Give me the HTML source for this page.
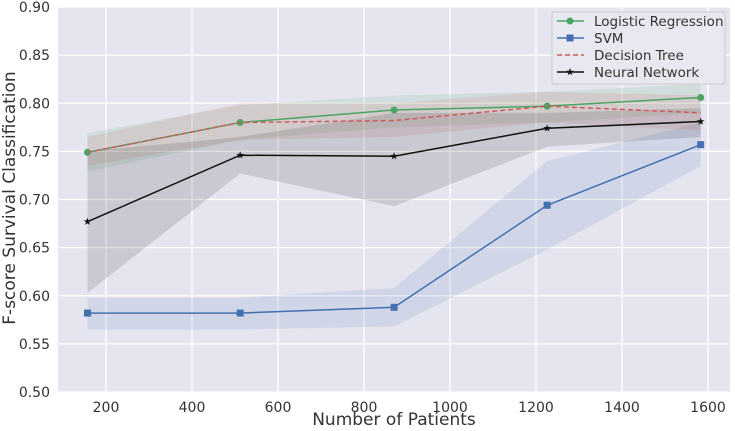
<!DOCTYPE html>
<html><head><meta charset="utf-8"><style>
body{margin:0;background:#fff;font-family:"DejaVu Sans","Liberation Sans",sans-serif}
</style></head><body>
<svg id="chart" width="735" height="427" xmlns="http://www.w3.org/2000/svg"></svg>
<script>
const xs=[157,512,870,1226,1583];
const lrY=[0.749,0.780,0.793,0.797,0.806];
const lrLo=[0.729,0.762,0.775,0.780,0.790];
const lrHi=[0.769,0.798,0.808,0.812,0.820];
const svmY=[0.582,0.582,0.588,0.694,0.757];
const svmLo=[0.565,0.565,0.568,0.648,0.735];
const svmHi=[0.598,0.598,0.608,0.740,0.780];
const dtY=[0.749,0.780,0.782,0.797,0.790];
const dtLo=[0.735,0.762,0.765,0.780,0.772];
const dtHi=[0.765,0.800,0.800,0.812,0.808];
const nnY=[0.677,0.746,0.745,0.774,0.781];
const nnLo=[0.603,0.727,0.693,0.755,0.765];
const nnHi=[0.750,0.765,0.790,0.790,0.795];
const xTicks=[200,400,600,800,1000,1200,1400,1600];
const yTicks=[0.50,0.55,0.60,0.65,0.70,0.75,0.80,0.85,0.90];
const L=58,R=730,T=7,B=392;
const X=v=>106+(v-200)*86/200;
const Y=v=>B-(v-0.5)*(B-T)/0.4;
const svg=document.getElementById('chart');
function mk(tag,attrs,txt){const e=document.createElementNS('http://www.w3.org/2000/svg',tag);for(const k in attrs)e.setAttribute(k,attrs[k]);if(txt!==undefined)e.textContent=txt;svg.appendChild(e);return e;}
let bg=mk('rect',{x:L,y:T,width:R-L,height:B-T,fill:'#e5e5ef'});


xTicks.forEach(t=>{let g=mk('line',{x1:X(t),x2:X(t),y1:T,y2:B,stroke:'#fff','stroke-width':1.3});


let l=mk('text',{x:X(t),y:B+20,'text-anchor':'middle','font-size':14,fill:'#333'},t);

});
yTicks.forEach(t=>{let g=mk('line',{x1:L,x2:R,y1:Y(t),y2:Y(t),stroke:'#fff','stroke-width':1.3});


let l=mk('text',{x:L-8,y:Y(t)+5,'text-anchor':'end','font-size':14,fill:'#333'},t.toFixed(2));

});
const series=[
{n:'logistic-regression',y:lrY,lo:lrLo,hi:lrHi,c:'#4aa564',m:'circle'},
{n:'svm',y:svmY,lo:svmLo,hi:svmHi,c:'#4470b0',m:'square'},
{n:'decision-tree',y:dtY,lo:dtLo,hi:dtHi,c:'#d05a5a',m:'none',dash:'5,3'},
{n:'neural-network',y:nnY,lo:nnLo,hi:nnHi,c:'#111',m:'star'}];
series.forEach(s=>{let pts=xs.map((x,i)=>X(x)+','+Y(s.hi[i])).concat(xs.map((x,i)=>X(x)+','+Y(s.lo[i])).reverse());
let b=mk('polygon',{points:pts.join(' '),fill:s.c,opacity:0.13});

});
function marker(s,x,y){let e;
if(s.m==='circle')e=mk('circle',{cx:x,cy:y,r:3.5,fill:s.c});
else if(s.m==='square')e=mk('rect',{x:x-3.5,y:y-3.5,width:7,height:7,fill:s.c});
else if(s.m==='star'){let p=[];for(let k=0;k<10;k++){let r=k%2?1.6:4,a=-Math.PI/2+k*Math.PI/5;p.push((x+r*Math.cos(a))+','+(y+r*Math.sin(a)));}e=mk('polygon',{points:p.join(' '),fill:s.c});}
return e;}
series.forEach(s=>{let l=mk('polyline',{points:xs.map((x,i)=>X(x)+','+Y(s.y[i])).join(' '),fill:'none',stroke:s.c,'stroke-width':1.5,'stroke-dasharray':s.dash||'none'});


xs.forEach((x,i)=>{let m=marker(s,X(x),Y(s.y[i]));if(m){

}});});
let lg=mk('rect',{x:552,y:12,width:173,height:72,fill:'#e8e8f0',stroke:'#ccc',rx:2});


const names=['Logistic Regression','SVM','Decision Tree','Neural Network'];
series.forEach((s,i)=>{let y=21+i*17;
let ln=mk('line',{x1:557,x2:584,y1:y,y2:y,stroke:s.c,'stroke-width':1.5,'stroke-dasharray':s.dash||'none'});


marker(s,570,y);
let t=mk('text',{x:594,y:y+5,'font-size':13.5,fill:'#333'},names[i]);

});
let xt=mk('text',{x:394,y:425,'text-anchor':'middle','font-size':17,fill:'#333'},'Number of Patients');


let yt=mk('text',{x:15,y:198,'text-anchor':'middle','font-size':17,fill:'#333',transform:'rotate(-90 15 198)'},'F-score Survival Classification');


</script>
</body></html>
